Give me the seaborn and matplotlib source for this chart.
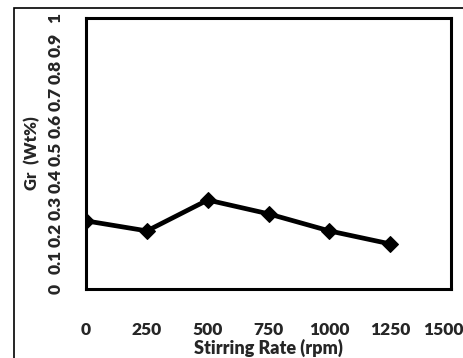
import numpy as np
import pandas as pd
import seaborn as sns
from matplotlib import pyplot as plt
from matplotlib.patches import Rectangle
from matplotlib.transforms import ScaledTranslation

# values
stirring_rate = [0, 250, 500, 750, 1000, 1250]
gr_wt = [0.251, 0.214, 0.328, 0.277, 0.214, 0.166]
x_ticks = [0, 250, 500, 750, 1000, 1250, 1500]
y_ticks = [0, 0.1, 0.2, 0.3, 0.4, 0.5, 0.6, 0.7, 0.8, 0.9, 1]
y_tick_labels = ['0', '0.1', '0.2', '0.3', '0.4', '0.5', '0.6', '0.7', '0.8', '0.9', '1']

df = pd.DataFrame({'rate': stirring_rate, 'gr': gr_wt})

sns.set_style('white')
plt.rcParams['font.family'] = ['Lato', 'DejaVu Sans']
plt.rcParams['font.weight'] = 'bold'

fig = plt.figure(figsize=(4.63, 3.58), dpi=100)
ax = fig.add_axes([0.186, 0.193, 0.788, 0.757])

sns.lineplot(data=df, x='rate', y='gr', ax=ax, color='black', linewidth=3.4,
             marker='D', markersize=8, markeredgecolor='black')

ax.set_xlim(0, 1500)
ax.set_ylim(0, 1)
ax.set_xticks(x_ticks)
ax.set_xticklabels([str(t) for t in x_ticks], fontsize=12.5, fontweight='heavy')
ax.set_yticks(y_ticks)
ax.set_yticklabels(y_tick_labels, fontsize=12.5, fontweight='heavy', rotation=90, va='center')
ax.tick_params(axis='both', direction='inout', length=7, width=1.5, color='#333333')
ax.tick_params(axis='x', pad=20)
ax.tick_params(axis='y', pad=13)

# keep the last x label inside the picture
last = ax.get_xticklabels()[-1]
last.set_transform(last.get_transform() + ScaledTranslation(-8 / 100, 0, fig.dpi_scale_trans))

for s in ax.spines.values():
    s.set_linewidth(2.2)
    s.set_color('black')

ax.set_xlabel('Stirring Rate (rpm)', fontsize=13, fontweight='heavy', labelpad=1)
ax.set_ylabel('Gr  (Wt%)', fontsize=12, fontweight='heavy', labelpad=5)

# outer frame of the figure
fig.patches.append(Rectangle((14 / 463, -0.1), 1.2, 1 - 8 / 358 + 0.1,
                             transform=fig.transFigure, fill=False,
                             edgecolor='black', linewidth=1.2))

fig.savefig('out.png', dpi=100)
